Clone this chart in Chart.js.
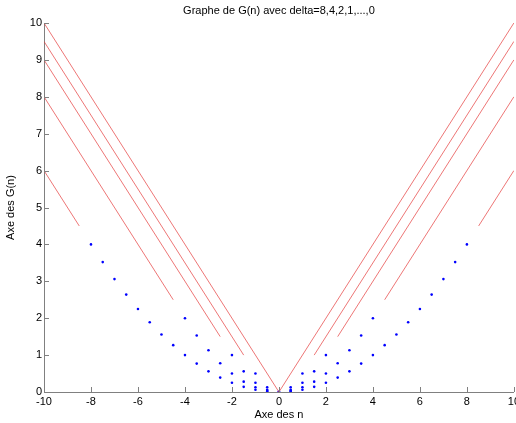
<!DOCTYPE html>
<html>
<head>
<meta charset="utf-8">
<script src="https://cdn.jsdelivr.net/npm/chart.js@4.4.0/dist/chart.umd.min.js"></script>
<style>
  html, body { margin: 0; padding: 0; background: #fff; overflow: hidden; }
  #wrap { width: 523px; height: 423px; }
</style>
</head>
<body>
<div id="wrap"><canvas id="gChart" width="523" height="423"></canvas></div>
<script>
// points quadratiques (bleus) pour chaque delta
var nD8 = [-8,-7.5,-7,-6.5,-6,-5.5,-5,-4.5,-4,-3.5,-3,-2.5,-2,-1.5,-1,-0.5,0,0.5,1,1.5,2,2.5,3,3.5,4,4.5,5,5.5,6,6.5,7,7.5,8];
var gD8 = [4,3.52,3.06,2.64,2.25,1.89,1.56,1.27,1,0.77,0.56,0.39,0.25,0.14,0.06,0.02,0,0.02,0.06,0.14,0.25,0.39,0.56,0.77,1,1.27,1.56,1.89,2.25,2.64,3.06,3.52,4];
var nD4 = [-4,-3.5,-3,-2.5,-2,-1.5,-1,-0.5,0,0.5,1,1.5,2,2.5,3,3.5,4];
var gD4 = [2,1.53,1.13,0.78,0.5,0.28,0.13,0.03,0,0.03,0.13,0.28,0.5,0.78,1.13,1.53,2];
var nD2 = [-2,-1.5,-1,-0.5,0,0.5,1,1.5,2];
var gD2 = [1,0.56,0.25,0.06,0,0.06,0.25,0.56,1];
var nD1 = [-1,-0.5,0,0.5,1];
var gD1 = [0.5,0.13,0,0.13,0.5];

// parties lineaires (rouges), null = coupure
var nL8 = [-10,-8.5,null,8.5,10];
var gL8 = [6,4.5,null,4.5,6];
var nL4 = [-10,-4.5,null,4.5,10];
var gL4 = [8,2.5,null,2.5,8];
var nL2 = [-10,-2.5,null,2.5,10];
var gL2 = [9,1.5,null,1.5,9];
var nL1 = [-10,-1.5,null,1.5,10];
var gL1 = [9.5,1,null,1,9.5];
var nL0 = [-10,0,10];
var gL0 = [10,0,10];

var xTicks = [-10,-8,-6,-4,-2,0,2,4,6,8,10];
var yTicks = [0,1,2,3,4,5,6,7,8,9,10];

var FONT = 'Liberation Sans, Arial, sans-serif';
var AXIS = '#808080';

function pts(xs, ys) {
    return xs.map(function(x, i) {
        return (x === null) ? {x: null, y: null} : {x: x, y: ys[i]};
    });
}

function lineSet(xs, ys) {
    return {
        type: 'line',
        data: pts(xs, ys),
        showLine: true,
        spanGaps: false,
        borderColor: 'rgba(230,60,60,0.7)',
        borderWidth: 1,
        pointRadius: 0,
        fill: false
    };
}

function dotSet(xs, ys) {
    return {
        data: pts(xs, ys),
        showLine: false,
        pointRadius: 1.3,
        pointBackgroundColor: '#0000ff',
        pointBorderWidth: 0
    };
}

// titre centre sur la zone de trace + ticks vers l'interieur (style matlab)
var matlabStyle = {
    id: 'matlabStyle',
    afterDraw: function(chart) {
        var c = chart.ctx, a = chart.chartArea;
        var sx = chart.scales.x, sy = chart.scales.y;
        c.save();
        c.strokeStyle = AXIS;
        c.lineWidth = 1;
        c.beginPath();
        xTicks.forEach(function(v) {
            var px = Math.round(sx.getPixelForValue(v)) + 0.5;
            c.moveTo(px, a.bottom);
            c.lineTo(px, a.bottom - 5);
        });
        yTicks.forEach(function(v) {
            var py = Math.round(sy.getPixelForValue(v)) + 0.5;
            c.moveTo(a.left, py);
            c.lineTo(a.left + 5, py);
        });
        c.stroke();
        c.fillStyle = '#000';
        c.font = '11px ' + FONT;
        c.textAlign = 'center';
        c.textBaseline = 'middle';
        c.fillText('Graphe de G(n) avec delta=8,4,2,1,...,0', (a.left + a.right) / 2, 11);
        c.restore();
    }
};

var ctx = document.getElementById('gChart').getContext('2d');
var chart = new Chart(ctx, {
    type: 'scatter',
    data: {
        datasets: [
            lineSet(nL8, gL8), lineSet(nL4, gL4), lineSet(nL2, gL2),
            lineSet(nL1, gL1), lineSet(nL0, gL0),
            dotSet(nD8, gD8), dotSet(nD4, gD4), dotSet(nD2, gD2), dotSet(nD1, gD1)
        ]
    },
    options: {
        responsive: false,
        animation: false,
        layout: { padding: { top: 23, left: 0, right: 0, bottom: 0 } },
        plugins: { legend: { display: false }, tooltip: { enabled: false } },
        scales: {
            x: {
                type: 'linear',
                min: -10, max: 10,
                afterBuildTicks: function(s) { s.ticks = xTicks.map(function(v) { return {value: v}; }); },
                afterFit: function(s) { s.height = 31; },
                grid: { drawOnChartArea: false, drawTicks: false },
                border: { color: AXIS, width: 1 },
                ticks: { color: '#000', font: { family: FONT, size: 11 }, padding: 3, maxRotation: 0 },
                title: { display: true, text: 'Axe des n', color: '#000', font: { family: FONT, size: 11 }, padding: { top: 0, bottom: 1 } }
            },
            y: {
                type: 'linear',
                min: 0, max: 10,
                afterBuildTicks: function(s) { s.ticks = yTicks.map(function(v) { return {value: v}; }); },
                afterFit: function(s) { s.width = 44; },
                grid: { drawOnChartArea: false, drawTicks: false },
                border: { color: AXIS, width: 1 },
                ticks: { color: '#000', font: { family: FONT, size: 11 }, padding: 2 },
                title: { display: true, text: 'Axe des G(n)', color: '#000', font: { family: FONT, size: 11 }, padding: { top: 4, bottom: 0 } }
            }
        }
    },
    plugins: [matlabStyle]
});
</script>
</body>
</html>
